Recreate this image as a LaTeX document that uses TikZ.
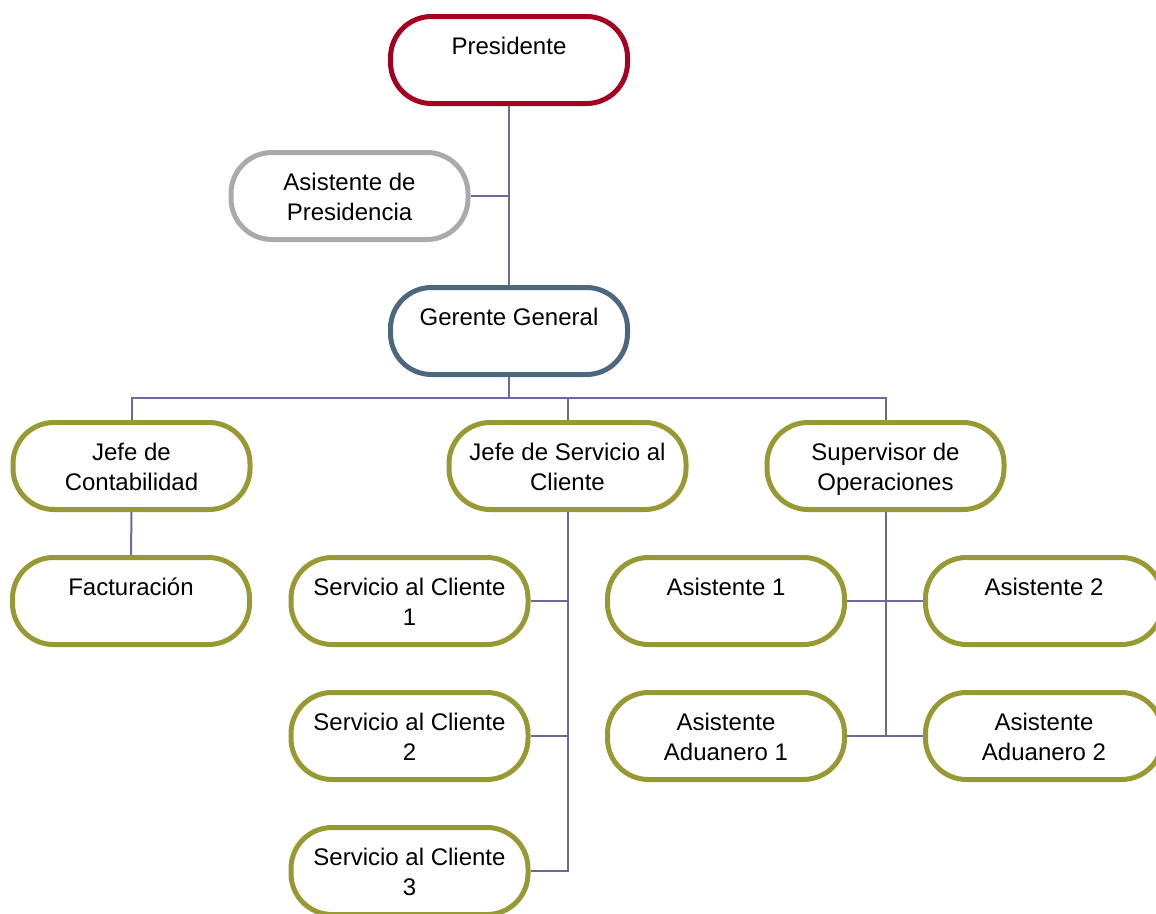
\documentclass[tikz,border=0pt]{standalone}
\usepackage{fontspec}
\setmainfont{Liberation Sans}
\definecolor{presred}{HTML}{A50021}
\definecolor{asgray}{HTML}{AAAAAA}
\definecolor{gerblue}{HTML}{4D687E}
\definecolor{olive}{HTML}{999933}
\definecolor{conn}{HTML}{6B68A0}
\newcommand{\twol}[2]{\rule{0pt}{27pt}#1\\\strut #2}
\begin{document}
\begin{tikzpicture}[x=1pt,y=-1pt,
  pill/.style={draw=#1, line width=5pt, fill=white, rounded corners=41pt,
    minimum width=237pt, minimum height=87pt, inner sep=0pt, align=center,
    font=\fontsize{24}{30}\selectfont},
  link/.style={draw=conn, line width=2pt}]
\useasboundingbox (0,0) rectangle (1156,913);
\clip (0,0) rectangle (1156,913);
% nodes
\node[pill=presred] (pres) at (509,60) {\twol{Presidente}{}};
\node[pill=asgray] (asist) at (349.5,196) {\twol{Asistente de}{Presidencia}};
\node[pill=gerblue] (ger) at (509,331) {\twol{Gerente General}{}};
\node[pill=olive] (jc) at (131.5,466) {\twol{Jefe de}{Contabilidad}};
\node[pill=olive] (js) at (567.5,466) {\twol{Jefe de Servicio al}{Cliente}};
\node[pill=olive] (sup) at (885.5,466) {\twol{Supervisor de}{Operaciones}};
\node[pill=olive] (fact) at (131,601) {\twol{Facturación}{}};
\node[pill=olive] (sc1) at (409.5,601) {\twol{Servicio al Cliente}{1}};
\node[pill=olive] (sc2) at (409.5,736) {\twol{Servicio al Cliente}{2}};
\node[pill=olive] (sc3) at (409.5,871) {\twol{Servicio al Cliente}{3}};
\node[pill=olive] (a1) at (726,601) {\twol{Asistente 1}{}};
\node[pill=olive] (a2) at (1044,601) {\twol{Asistente 2}{}};
\node[pill=olive] (ad1) at (726,736) {\twol{Asistente}{Aduanero 1}};
\node[pill=olive] (ad2) at (1044,736) {\twol{Asistente}{Aduanero 2}};
% connectors
\coordinate (spine1) at (509,196);
\coordinate (bus) at (509,398);
\draw[link] (pres.south) -- (ger.north);
\draw[link] (asist.east) -- (spine1);
\draw[link] (ger.south) -- (bus);
\draw[link] (jc.north) |- (bus);
\draw[link] (sup.north) |- (bus);
\draw[link] (js.north) -- (js.north |- bus);
\draw[link] (jc.south) -- (fact.north);
\draw[link] (js.south) |- (sc3.east);
\draw[link] (sc1.east) -- (sc1.east -| js.south);
\draw[link] (sc2.east) -- (sc2.east -| js.south);
\draw[link] (sup.south) |- (ad1.east);
\draw[link] (a1.east) -- (a2.west);
\draw[link] (ad2.west) -- (ad2.west -| sup.south);
\end{tikzpicture}
\end{document}
